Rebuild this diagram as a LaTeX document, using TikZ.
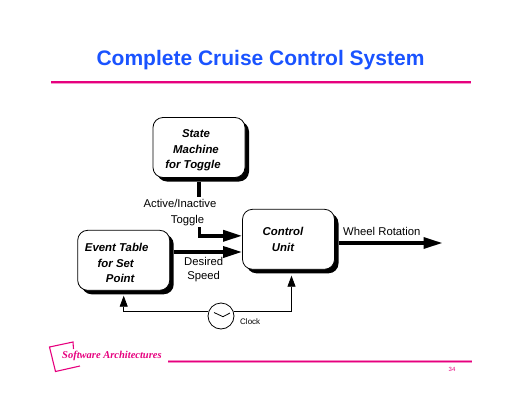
\documentclass[tikz,border=0pt]{standalone}
\usepackage{fontspec}
\setmainfont{Liberation Sans}
\newfontfamily\logofont{Liberation Serif}
\definecolor{slideBlue}{HTML}{1A53FF}
\definecolor{slidePink}{HTML}{E6007E}
\usetikzlibrary{arrows.meta, positioning, calc, shadows}
\begin{document}
\begin{tikzpicture}[
  x=1pt, y=1pt,
  box/.style={rounded corners=10pt, minimum width=92pt, minimum height=60pt,
    align=center, font=\fontsize{11.4}{15.5}\selectfont\bfseries\itshape, draw, fill=white, line width=0.8pt,
    general shadow={fill=black, shadow xshift=4pt, shadow yshift=-4pt}},
  arr/.style={-{Stealth[length=19pt, width=11pt, inset=0pt]}, line width=3.4pt},
  thinarr/.style={-{Stealth[length=11pt, width=8pt, inset=0pt]}, line width=0.8pt},
  lbl/.style={font=\fontsize{11.3}{15.5}\selectfont, inner sep=0pt, align=center},
  rulemark/.style={slidePink, line width=1.8pt}
]
  \useasboundingbox (0,0) rectangle (520,-402);

  % Title
  \node[font=\fontsize{21}{24}\selectfont\bfseries, text=slideBlue] (title) at (260.5,-60.5) {Complete Cruise Control System};
  \coordinate (ruleL) at (51,-82);
  \coordinate (ruleR) at (471,-82);
  \draw[slidePink!40, line width=2.6pt] ([yshift=-0.5pt]ruleL) -- ([yshift=-0.5pt]ruleR);
  \draw[rulemark] (ruleL) -- (ruleR);

  % Nodes
  \node[box] (state) at (199,-147.5) {\rule{0pt}{14pt}\hspace*{-6pt}State\\\hspace*{-6pt}Machine\\\hspace*{-12pt}for Toggle};
  \node[box, below=31pt of state, xshift=89.5pt] (control) {\hspace*{-11pt}Control\\\hspace*{-11pt}Unit};
  \node[box, left=72pt of control, yshift=-21pt] (event) {\rule{0pt}{14pt}\hspace*{-14pt}Event Table\\\hspace*{-16pt}for Set\\\hspace*{-7pt}Point};
  \node[draw, circle, minimum size=26pt, inner sep=0pt, line width=0.8pt, fill=white] (clock) at (221,-316) {};
  \coordinate (toggleIn) at (199.5,-227);
  \coordinate (wheelOut) at (442.5,-243);

  % Labels
  \node[lbl] (active) at (180,-212.5) {Active/Inactive\\\hspace*{15pt}Toggle};
  \node[lbl, anchor=north west] (desired) at (184,-257.5) {Desired\\[-1.5pt]Speed};
  \node[lbl, anchor=south west] (wheel) at (343,-236) {Wheel Rotation};
  \node[font=\fontsize{8}{9}\selectfont, anchor=west, inner sep=0pt] (clocklbl) at (240,-321.5) {Clock};

  % Paths
  \draw[line width=3.4pt] ([yshift=-4pt]state.south) -- ++(0,-15);
  \draw[arr] (toggleIn) |- ([yshift=3.5pt]control.west);
  \draw[arr] ([xshift=4pt]event.east |- 0,-252) -- (control.west |- 0,-252);
  \draw[arr] ([xshift=4pt]control.east |- wheelOut) -- (wheelOut);
  \draw[thinarr] (clock.162) -| ([yshift=-5pt]event.south);
  \draw[thinarr] (clock.18) -| ([xshift=3pt,yshift=-6pt]control.south);

  % Clock hands
  \draw[line width=0.8pt] ($(clock.center)+(-7,3.5)$) -- ($(clock.center)+(2,-0.7)$) -- ($(clock.center)+(9,3)$);

  % Footer
  \coordinate (logoA) at (73.5,-349);
  \coordinate (logoB) at (73,-342);
  \coordinate (logoC) at (49.5,-347);
  \coordinate (logoD) at (55.5,-371.5);
  \coordinate (logoE) at (80,-366);
  \draw[slidePink, line width=1.1pt] (logoA) -- (logoB) -- (logoC) -- (logoD) -- (logoE);
  \node[font=\fontsize{10.5}{12}\logofont\bfseries\itshape, text=slidePink, anchor=west, inner sep=0pt] (logo) at (62,-356) {Software Architectures};
  \coordinate (footL) at (168,-361.5);
  \coordinate (footR) at (471.5,-361.5);
  \draw[slidePink!45, line width=3pt] (footL) -- (footR);
  \draw[slidePink, line width=1.1pt] (footL) -- (footR);
  \node[font=\fontsize{6}{7}\selectfont, text=slidePink, inner sep=0pt] (page) at (452,-369) {34};
\end{tikzpicture}
\end{document}
